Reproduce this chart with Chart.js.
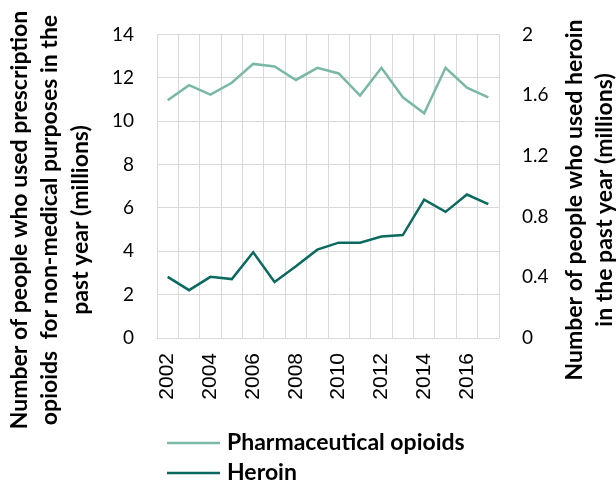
<!DOCTYPE html>
<html>
<head>
<meta charset="utf-8">
<script src="https://cdn.jsdelivr.net/npm/chart.js@4.4.1/dist/chart.umd.min.js"></script>
<style>
  html, body { margin: 0; padding: 0; background: #fff; }
  #wrap { width: 616px; height: 482px; }
</style>
</head>
<body>
<div id="wrap"><canvas id="opioidChart" width="616" height="482"></canvas></div>
<script>
// Years on the x axis
const years = ['2002', '2003', '2004', '2005', '2006', '2007', '2008', '2009',
  '2010', '2011', '2012', '2013', '2014', '2015', '2016', '2017'];

// Pharmaceutical opioids, millions (left axis)
const pharmaValues = [10.96, 11.66, 11.22, 11.77, 12.64, 12.52, 11.90, 12.46,
  12.20, 11.18, 12.46, 11.10, 10.36, 12.46, 11.54, 11.10];

// Heroin, millions (right axis)
const heroinValues = [0.403, 0.315, 0.403, 0.388, 0.565, 0.369, 0.472, 0.582,
  0.628, 0.628, 0.669, 0.678, 0.911, 0.831, 0.945, 0.882];

const seriesNames = ['Pharmaceutical opioids', 'Heroin'];
const seriesColors = ['#7ab8a6', '#0b6a5f'];

const leftTitle = ['Number of people who used prescription',
  'opioids  for non-medical purposes in the', 'past year (millions)'];
const rightTitle = ['Number of people who used heroin', 'in the past year (millions)'];

const titleFont = 'bold 23px Lato, "Open Sans", sans-serif';

// Axis titles and legend drawn by hand so they sit where the original has them
const extrasPlugin = {
  id: 'extras',
  afterDraw(chart) {
    const ctx = chart.ctx;
    ctx.save();
    ctx.fillStyle = '#000';
    ctx.font = titleFont;
    ctx.textAlign = 'center';
    ctx.textBaseline = 'middle';

    const leftX = [20, 50, 81];
    leftTitle.forEach((line, i) => {
      ctx.save();
      ctx.translate(leftX[i], 220);
      ctx.rotate(-Math.PI / 2);
      ctx.fillText(line, 0, 0);
      ctx.restore();
    });

    const rightX = [575, 605];
    rightTitle.forEach((line, i) => {
      ctx.save();
      ctx.translate(rightX[i], 200);
      ctx.rotate(-Math.PI / 2);
      ctx.fillText(line, 0, 0);
      ctx.restore();
    });

    // legend
    ctx.textAlign = 'left';
    const rowsY = [443, 473];
    chart.data.datasets.forEach((ds, i) => {
      ctx.strokeStyle = ds.borderColor;
      ctx.lineWidth = 2.5;
      ctx.beginPath();
      ctx.moveTo(167, rowsY[i]);
      ctx.lineTo(220, rowsY[i]);
      ctx.stroke();
      ctx.fillText(ds.label, 227, rowsY[i]);
    });
    ctx.restore();
  }
};

const canvas = document.getElementById('opioidChart');
new Chart(canvas.getContext('2d'), {
  type: 'line',
  data: {
    labels: years,
    datasets: [
      {
        label: seriesNames[0],
        data: pharmaValues,
        borderColor: seriesColors[0],
        backgroundColor: seriesColors[0],
        borderWidth: 2.5,
        pointRadius: 0,
        tension: 0,
        yAxisID: 'y'
      },
      {
        label: seriesNames[1],
        data: heroinValues,
        borderColor: seriesColors[1],
        backgroundColor: seriesColors[1],
        borderWidth: 2.5,
        pointRadius: 0,
        tension: 0,
        yAxisID: 'y1'
      }
    ]
  },
  options: {
    responsive: false,
    animation: false,
    layout: { padding: { left: 100, right: 0, top: 25, bottom: 74 } },
    plugins: {
      legend: { display: false },
      tooltip: { enabled: false }
    },
    scales: {
      x: {
        offset: true,
        grid: { offset: true, color: '#d9d9d9', lineWidth: 1, drawTicks: false },
        border: { display: false },
        afterFit: s => { s.height = 70; },
        ticks: {
          autoSkip: false,
          minRotation: 90,
          maxRotation: 90,
          padding: 15,
          color: '#000',
          font: { family: '"Liberation Sans", Arial, sans-serif', size: 21 },
          callback: (v, i) => (i % 2 === 0 ? years[i] : '')
        }
      },
      y: {
        position: 'left',
        min: 0,
        max: 14,
        afterFit: s => { s.width = 57; },
        grid: { color: '#d9d9d9', lineWidth: 1, drawTicks: false },
        border: { display: false },
        ticks: {
          stepSize: 2,
          padding: 23,
          color: '#000',
          font: { family: 'Lato, "Open Sans", sans-serif', size: 19 }
        }
      },
      y1: {
        position: 'right',
        min: 0,
        max: 2,
        afterFit: s => { s.width = 117; },
        grid: { display: false, drawTicks: false },
        border: { display: false },
        ticks: {
          stepSize: 0.4,
          padding: 23,
          color: '#000',
          font: { family: 'Lato, "Open Sans", sans-serif', size: 19 },
          callback: v => String(Math.round(v * 10) / 10)
        }
      }
    }
  },
  plugins: [extrasPlugin]
});
</script>
</body>
</html>
